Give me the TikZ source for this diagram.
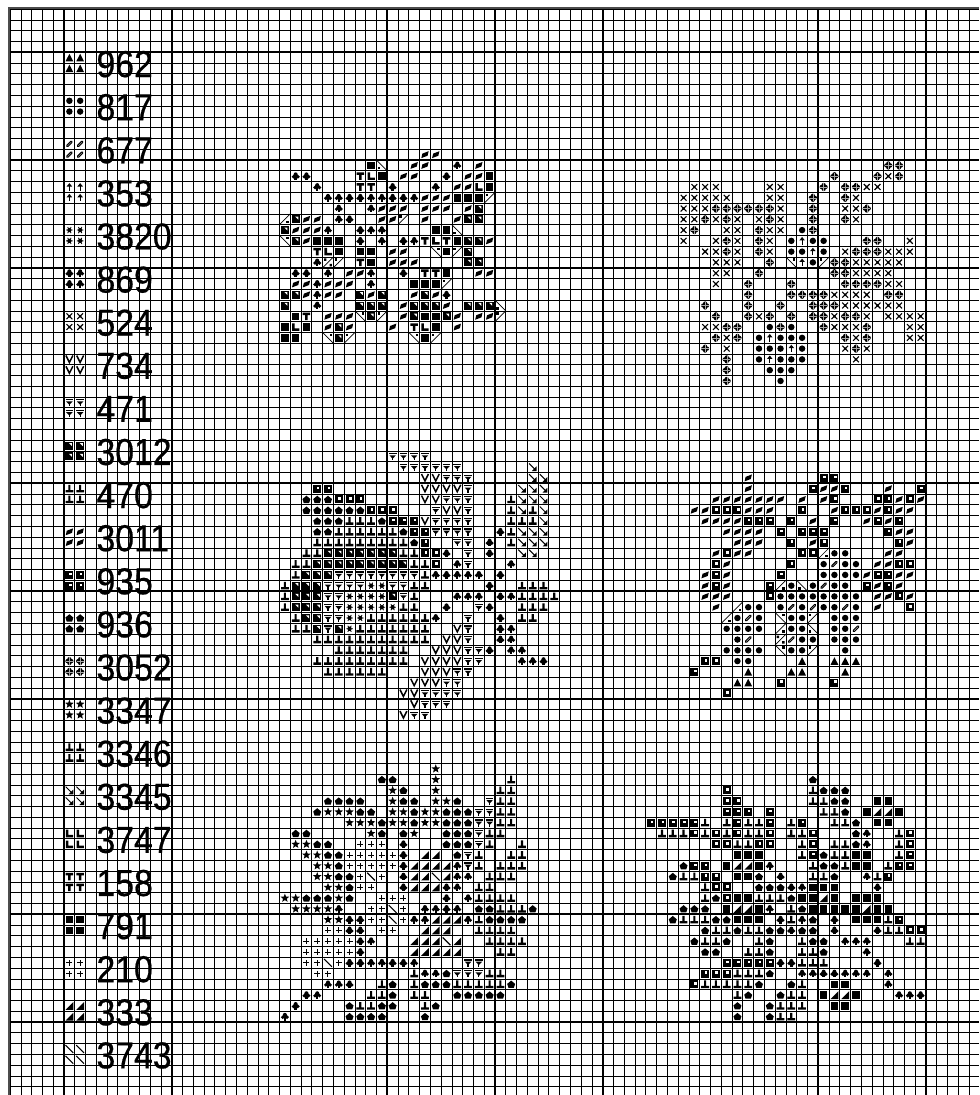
\documentclass[tikz,border=0pt]{standalone}
\usepackage{fontspec}
\newfontfamily\numfont[FakeStretch=0.9,FakeBold=0.5]{Liberation Sans}

% One call per chart row: \srow{row}{symbols}, '.' leaves a cell empty
\newcommand{\srow}[2]{\edef\stitchx{\startcol}\def\stitchy{#1}\stitchscan#2\relax}
\def\stitchscan#1{\ifx#1\relax\else\stitchput{#1}\expandafter\stitchscan\fi}
\def\stitchput#1{\if.#1\else\pic at (\stitchx+.5,\stitchy+.5) {st#1};\fi
  \edef\stitchx{\the\numexpr\stitchx+1\relax}}

\tikzset{
    thinline/.style={line width=0.8pt, black},
    boldline/.style={line width=1.7pt, black},
    borderline/.style={line width=2pt, black!70},
    numlabel/.style={anchor=west, inner sep=0pt, font=\numfont\fontsize{37.5}{40}\selectfont},
    % Legend symbols, drawn around the middle of one cell
    pics/sta/.style={code={\fill (-.36,.34) -- (.36,.34) -- (0,-.36) -- cycle;}},
    pics/sto/.style={code={\fill (0,0) circle (.3);}},
    pics/sth/.style={code={\draw[line width=2.6pt, line cap=round] (-.2,.2) -- (.2,-.2);
        \draw[line width=.4pt, black!30] (-.18,.18) -- (.18,-.18);}},
    pics/stu/.style={code={\fill (-.26,-.04) -- (.26,-.04) -- (0,-.36) -- cycle;
        \draw[line width=1pt] (0,-.1) -- (0,.34);}},
    pics/sts/.style={code={\fill (0,0) circle (.2);
        \draw[line width=.8pt] (-.3,0) -- (.3,0) (-.16,-.28) -- (.16,.28) (-.16,.28) -- (.16,-.28);}},
    pics/stc/.style={code={\fill (0,-.17) circle (.19) (-.2,.05) circle (.18) (.2,.05) circle (.18);
        \fill (-.11,-.1) rectangle (.11,.36);}},
    pics/ste/.style={code={\fill (0,-.18) circle (.2) (0,.18) circle (.2) (-.18,0) circle (.2) (.18,0) circle (.2);
        \draw[line width=.3pt, black!35] (-.34,0) -- (.34,0) (0,-.34) -- (0,.34);}},
    pics/stx/.style={code={\draw[line width=1.1pt] (-.27,-.27) -- (.27,.27) (-.27,.27) -- (.27,-.27);
        \fill (0,0) circle (.13);}},
    pics/stv/.style={code={\draw[line width=1.5pt] (-.32,-.36) -- (0,.28) -- (.32,-.36);}},
    pics/stf/.style={code={\draw[line width=1.2pt] (-.36,-.26) -- (.36,-.26) (0,0) -- (0,.36);
        \fill (-.3,-.1) -- (.3,-.1) -- (0,.22) -- cycle;}},
    pics/stg/.style={code={\fill (-.37,-.37) rectangle (.37,.37);
        \fill[white] (-.04,-.24) -- (.24,-.24) -- (.24,.04) -- cycle;}},
    pics/stl/.style={code={\fill (-.36,.13) rectangle (.36,.35) (-.1,-.36) rectangle (.1,.2);}},
    pics/stp/.style={code={\fill (-.34,.32) -- (-.24,-.1) -- (.34,-.32) -- (.24,.1) -- cycle;}},
    pics/stq/.style={code={\fill (-.37,-.37) rectangle (.37,.37);
        \fill[white] (-.04,-.2) rectangle (.2,.04);}},
    pics/stk/.style={code={\fill (-.37,-.04) -- (0,-.35) -- (.37,-.04) -- (.25,.33) -- (-.25,.33) -- cycle;}},
    pics/stt/.style={code={\fill (-90:.42) -- (-54:.18) -- (-18:.42) -- (18:.18) -- (54:.42) -- (90:.18)
        -- (126:.42) -- (162:.18) -- (198:.42) -- (234:.18) -- cycle;}},
    pics/str/.style={code={\draw[line width=1pt] (-.34,-.34) -- (.2,.2);
        \fill (.36,.36) -- (.36,-.08) -- (-.08,.36) -- cycle;}},
    pics/stL/.style={code={\fill (-.33,-.35) rectangle (-.09,.35) (-.33,.12) rectangle (.35,.35);}},
    pics/stT/.style={code={\fill (-.35,-.35) rectangle (.35,-.12) (-.12,-.35) rectangle (.12,.35);}},
    pics/stS/.style={code={\fill (-.35,-.35) rectangle (.35,.35);}},
    pics/stw/.style={code={\draw[line width=1pt] (-.28,0) -- (.28,0) (0,-.28) -- (0,.28);}},
    pics/stA/.style={code={\fill (.36,-.36) -- (.36,.36) -- (-.36,.36) -- cycle;}},
    pics/stB/.style={code={\draw[line width=1.1pt] (-.36,-.36) -- (.36,.36);}},
    % Quarter stitches: a diagonal and small marks beside it
    pics/st1/.style={code={\draw[line width=.7pt] (-.5,-.5) -- (.5,.5);
        \fill (-.37,.14) rectangle (-.14,.37);}},
    pics/st2/.style={code={\draw[line width=.7pt] (-.5,-.5) -- (.5,.5);
        \fill (.14,-.37) rectangle (.37,-.14);}},
    pics/st3/.style={code={\draw[line width=.7pt] (-.5,.5) -- (.5,-.5);
        \fill (-.37,-.37) rectangle (-.14,-.14);}},
    pics/st4/.style={code={\draw[line width=.7pt] (-.5,.5) -- (.5,-.5);
        \fill (.14,.14) rectangle (.37,.37);}},
    pics/st5/.style={code={\draw[line width=.7pt] (-.5,.5) -- (.5,-.5);
        \fill (-.37,-.37) rectangle (-.14,-.14) (.14,.14) rectangle (.37,.37);}}
}

\begin{document}
\begin{tikzpicture}[x=10.775pt, y=-10.775pt]

    \useasboundingbox (-5.94,-4.854) rectangle (84.92,96.77);

    % Grid
    \foreach \c in {-5,...,84}
        \draw[thinline] (\c,-4.1) -- (\c,96.77);
    \foreach \r in {-4,...,96}
        \draw[thinline] (-5.1,\r) -- (84.92,\r);
    \foreach \c in {0,10,...,80}
        \draw[boldline] (\c,-4.1) -- (\c,96.77);
    \foreach \r in {0,10,...,90}
        \draw[boldline] (-5.1,\r) -- (84.92,\r);
    \draw[borderline] (84.92,-4.1) -- (-5.1,-4.1) -- (-5.1,96.77);

    % Legend
    \foreach \lab/\sym [count=\i from 0] in {962/a,817/o,677/h,353/u,3820/s,869/c,524/x,734/v,
            471/f,3012/g,470/l,3011/p,935/q,936/k,3052/e,3347/t,3346/l,3345/r,3747/L,158/T,
            791/S,210/w,333/A,3743/B} {
        \pic at (.5,\i*4+.5) {st\sym};
        \pic at (1.5,\i*4+.5) {st\sym};
        \pic at (.5,\i*4+1.5) {st\sym};
        \pic at (1.5,\i*4+1.5) {st\sym};
        \node[numlabel] (num\lab) at (3,\i*4+1.1) {\lab};
    }

    % Top left motif
    \def\startcol{20}
    \srow{9}{.............pp}
    \srow{10}{........S1..pp..c.p}
    \srow{11}{.cc....TLS.pp..c.ppS}
    \srow{12}{...c...TT.c...c.ppLS}
    \srow{13}{....cccccccccpppSSS3}
    \srow{14}{.....c..cppp.ppp.pg}
    \srow{15}{4gpp.cc..pp3.p..pgg}
    \srow{16}{gpppc..ccc....SS1}
    \srow{17}{2gpSSS.c.c.ccTLTSggp}
    \srow{18}{...TLS.SS.pp..2S3g}
    \srow{19}{...c53.TS.ppp....gg}
    \srow{20}{.cc.c.ppc..c.TTS..pp}
    \srow{21}{.ppcppp.c...SSS3}
    \srow{22}{ggpcpp.gpg..pgpc}
    \srow{23}{g..c...ggg.pgggp.ggg1}
    \srow{24}{.ST.ppp2g3.pgSSgp.pp3}
    \srow{25}{SLS.pgp...p.TLS.p}
    \srow{26}{SS..2g3.....2S3}

    % Top right motif
    \def\startcol{57}
    \srow{10}{...................ee}
    \srow{11}{..............e...exe}
    \srow{12}{.xxx....xx...e.eexx}
    \srow{13}{xxxxx...xx..e..ex}
    \srow{14}{xxxeeeeeex..e..xxe}
    \srow{15}{xxexex.xex..e..ex}
    \srow{16}{xe..xx.exx.oe}
    \srow{17}{x..xex.ex.ouoo...ee..x}
    \srow{18}{..xxex.ex.oouo.xeeexxx}
    \srow{19}{...xxx..e.2uo3eexxxxx}
    \srow{20}{...xx..e......eexxxx}
    \srow{21}{...x..e...e....eeeexx}
    \srow{22}{......e...eeeexxxx.ee}
    \srow{23}{..e...e..e..eeexxxxxx}
    \srow{24}{...e..exe.e.eexeex.xxxx}
    \srow{25}{..xxee..oeo..exxxe...xx}
    \srow{26}{...exe.ouooo...exe...xx}
    \srow{27}{..e.x..ooouo...xex}
    \srow{28}{....e..ouooo....x}
    \srow{29}{....e...ooo}
    \srow{30}{....e....o}

    % Middle left motif
    \def\startcol{20}
    \srow{37}{..........ffff}
    \srow{38}{...........ffffff......r}
    \srow{39}{.............vvfff.....rr}
    \srow{40}{...qq........vvvvf....rrr}
    \srow{41}{..kkkqqq.....vvfff...lrrr}
    \srow{42}{..kkkkkkqqq...fvvf...lrlr}
    \srow{43}{...kkklllkqqqvffff...lllr}
    \srow{44}{...kkllllllkqqffff..clrrr}
    \srow{45}{...lllllllllkq..ff.c.lrrr}
    \srow{46}{..llgggggggllqqc.f.c..rr}
    \srow{47}{.llgggggggggllq.cf...c}
    \srow{48}{.lgggfffffffflccccc.c}
    \srow{49}{lgggffffssffll.....c..lll}
    \srow{50}{lgggffssssgfl...ccc.ccllll}
    \srow{51}{lgggffsssssll..c..fc..lll}
    \srow{52}{.lggffssllllllc..f..c.ll}
    \srow{53}{.llgfgslllllll..vf..cc}
    \srow{54}{...lllllllllll.vvf..cc}
    \srow{55}{.....lllllll..vvvffc.cc}
    \srow{56}{...lllllllll.vvvvff...ccc}
    \srow{57}{....llllll...vvvff}
    \srow{58}{............vvvff}
    \srow{59}{...........vvffff}
    \srow{60}{............vfff}
    \srow{61}{...........vff}

    % Middle right motif
    \def\startcol{58}
    \srow{39}{.....p......qq}
    \srow{40}{.....p.....qppq...p..q}
    \srow{41}{..ppppppp.p.pq...qqpqp}
    \srow{42}{ppqqqppp..q..pqqqpqpp}
    \srow{43}{.ppppqqq.q.p.q..pqpq}
    \srow{44}{...pppp.q.qqq.....qpp}
    \srow{45}{....ppp..q.pq......qp}
    \srow{46}{..pqpp....qq4oo...pp}
    \srow{47}{..qp.....q..ohoo.ppqq}
    \srow{48}{.pqp....q...oooopqqpp}
    \srow{49}{.pqp...q4o1ohoo.qpqp}
    \srow{50}{.ppp...qoooooooo.ppqp}
    \srow{51}{..p.4oo.ohohooho.p..q}
    \srow{52}{...4oho.2oo3.ooo}
    \srow{53}{...oooo.4oo1.ooh}
    \srow{54}{....oh..5hoo.ooo}
    \srow{55}{...oooo.2oo3..o}
    \srow{56}{.qq.oo....a..aaa}
    \srow{57}{q....a...aa...a}
    \srow{58}{....aa..q....q}
    \srow{59}{...q}

    % Bottom left motif
    \def\startcol{20}
    \srow{66}{..............t}
    \srow{67}{.........kk...t......l}
    \srow{68}{..........tk..t.....ll}
    \srow{69}{....kkkk..tkk.ttk..fll}
    \srow{70}{...ktttkk.ttkttkkkffll}
    \srow{71}{......tttkttkttkkkffll}
    \srow{72}{.kk.....tk.kt..kkkfll}
    \srow{73}{.ttkk..www.c...kkkfl..l}
    \srow{74}{..ttkkwwwwwc.AA.kfl..ll}
    \srow{75}{...ttkwwwwwcAAAAcfl.lll}
    \srow{76}{...ttkkwBw.cAABAcc.lll}
    \srow{77}{....ttkww..cAAAcc.ll}
    \srow{78}{ttkkktk..www...c.cllll}
    \srow{79}{.ttttc..wwBw.cccc.kklllk}
    \srow{80}{....ttccwwBwccAAAclkkkk}
    \srow{81}{....wwcc.ww..AAA..llll}
    \srow{82}{..wwwwwcc...AAABA..llll}
    \srow{83}{..wwwwwc....AAAAA...ll}
    \srow{84}{..wwBwccccccc....ff}
    \srow{85}{...ww.......lcckfffll}
    \srow{86}{....ccc..lk.lkkklllllk}
    \srow{87}{..cc....llk.ll..kkkkk}
    \srow{88}{.c....kllkk..lk}
    \srow{89}{c.....kkkk...k}

    % Bottom right motif
    \def\startcol{54}
    \srow{67}{...............k}
    \srow{68}{.......q.......lkkk}
    \srow{69}{.......qq......llkk..SS}
    \srow{70}{.......qqq.q....llk.SAAS}
    \srow{71}{qqqqql.lqllq.lq..llk.SS}
    \srow{72}{.lllqlqlqllq.llq...kc..lq}
    \srow{73}{......qqllqq..lq.llkc..lq}
    \srow{74}{........SSS...lqkllSS..lq}
    \srow{75}{...kqq.SAASc...lkklSS.lqq}
    \srow{76}{..kllqq.SSk.c..llk..clq}
    \srow{77}{.....lqq..kkkccSSS...c}
    \srow{78}{.....lkqSSlllkSSAS.SSS}
    \srow{79}{...kkk.SAASc.lkSSSSSASS}
    \srow{80}{..klllkkSSS.clck.c.SSSlq}
    \srow{81}{.....kllkllkkckk.c...cllqq}
    \srow{82}{....kllk..lk..lkk.ccc...ll}
    \srow{83}{.....kk..llk..llk...c}
    \srow{84}{.......qqqqqcclll....c}
    \srow{85}{.....qqqlllk..ccccccc.c}
    \srow{86}{....qlllllk..kl..SS...c}
    \srow{87}{........lk..kll.SAAS...ccc}
    \srow{88}{........k..klll..SS}
    \srow{89}{........k..kll}

\end{tikzpicture}
\end{document}
